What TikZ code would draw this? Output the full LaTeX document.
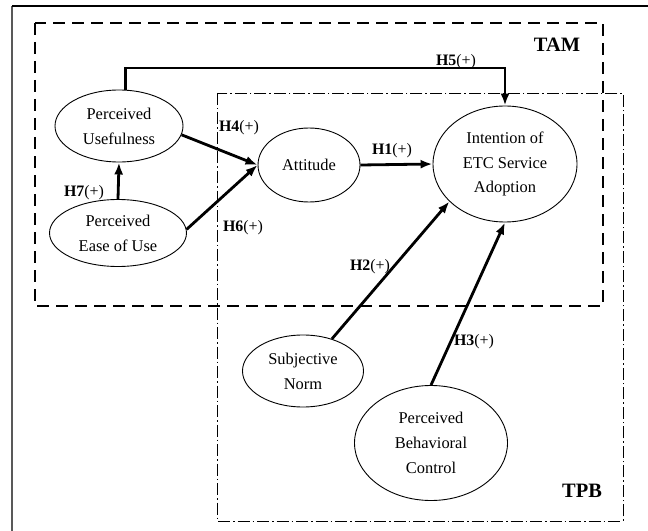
\documentclass[tikz,border=0pt]{standalone}
\usepackage{fontspec}
\setmainfont{Liberation Serif}
\usetikzlibrary{shapes.geometric,arrows.meta}
\tikzset{
  construct/.style={ellipse,draw,line width=0.9bp,inner sep=0pt,align=center,
    font=\fontsize{16.5}{25}\selectfont},
  link/.style={line width=2.8bp,-{Latex[length=12bp,width=9bp]}},
  hyp/.style={inner sep=0pt,font=\fontsize{16}{19}\selectfont},
  tambox/.style={line width=2.6bp,dash pattern=on 12bp off 7bp},
  tpbbox/.style={line width=0.9bp,dash pattern=on 12bp off 3bp on 1.5bp off 3bp},
  boxtitle/.style={inner sep=0pt,font=\fontsize{20.5}{24}\selectfont\bfseries},
}
\newcommand{\hlabel}[1]{\textbf{H#1}(+)}
\begin{document}
\begin{tikzpicture}[x=1bp,y=-1bp]
\useasboundingbox (0,0) rectangle (648,531);

% frame edges
\draw[line width=2bp,black!65] (12,6) -- (12,531);
\draw[line width=1.4bp] (12,6) -- (648,6);

% model boundaries
\draw[tpbbox] (217,93) rectangle (623,521);
\draw[tambox] (35,23) rectangle (603,306);
\node[boxtitle] (tam) at (557,45) {TAM};
\node[boxtitle] (tpb) at (582,491) {TPB};

% constructs
\node[construct,minimum width=128bp,minimum height=72bp] (pu) at (119,126) {Perceived\\Usefulness};
\node[construct,minimum width=137bp,minimum height=67bp] (peou) at (118,233) {Perceived\\Ease of Use};
\node[construct,minimum width=102bp,minimum height=74bp] (att) at (309,165) {Attitude};
\node[construct,minimum width=144bp,minimum height=116bp] (int) at (505,164) {Intention of\\ETC Service\\Adoption};
\node[construct,minimum width=121bp,minimum height=72bp] (sn) at (303,371) {Subjective\\Norm};
\node[construct,minimum width=153bp,minimum height=115bp] (pbc) at (431,443) {Perceived\\Behavioral\\Control};

% hypotheses
\coordinate (h5row) at (0,68);
\draw[link] (pu.80) |- (h5row -| int.north) -- (int.north);
\draw[link] (pu.-8) -- (att.west);
\draw[link] (peou.3) -- (att.west);
\draw[link] (peou.north) -- (pu.south);
\draw[link] (att.east) -- (int.west);
\draw[link] (sn.48) -- (int.214);
\draw[link] (pbc.north) -- (int.south);

\node[hyp] (h1) at (392,151) {\hlabel{1}};
\node[hyp] (h2) at (370,267) {\hlabel{2}};
\node[hyp] (h3) at (474,342) {\hlabel{3}};
\node[hyp] (h4) at (239,128) {\hlabel{4}};
\node[hyp] (h5) at (456,62) {\hlabel{5}};
\node[hyp] (h6) at (243,228) {\hlabel{6}};
\node[hyp] (h7) at (84,193) {\hlabel{7}};
\end{tikzpicture}
\end{document}
